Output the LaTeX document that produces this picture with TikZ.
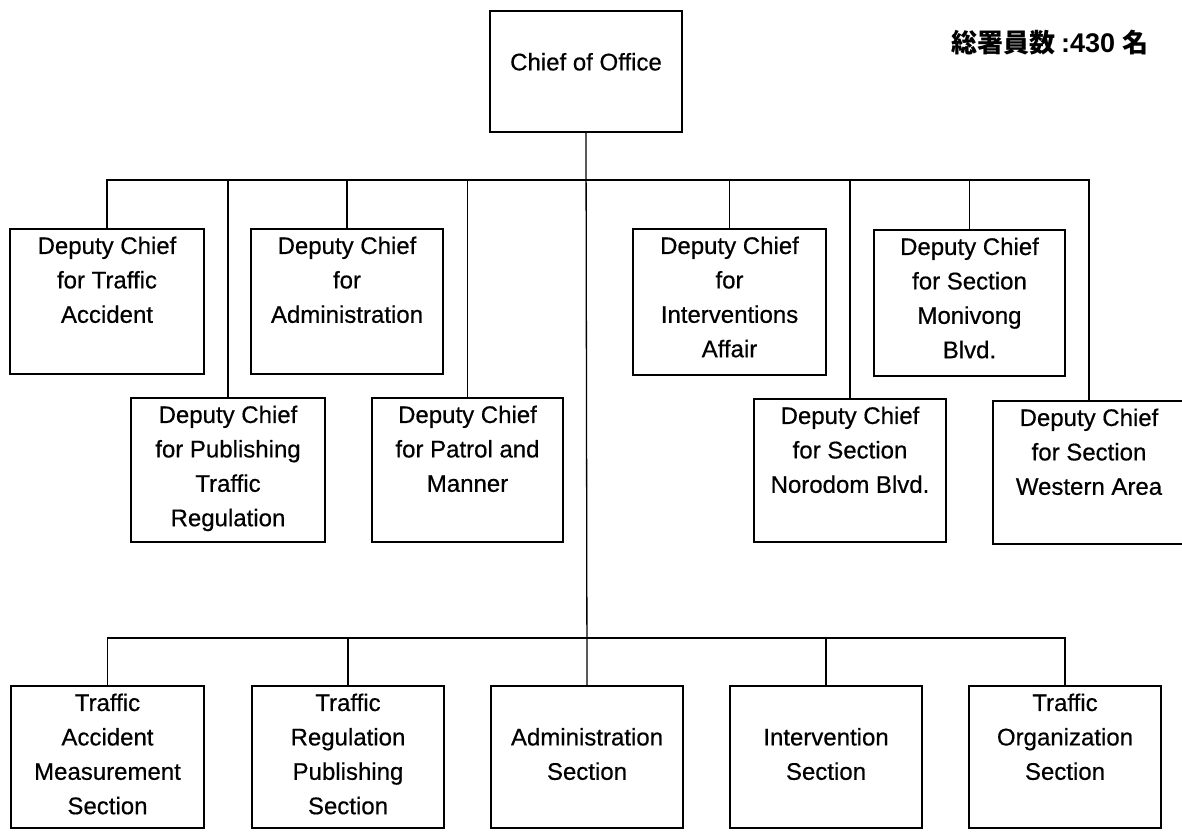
\documentclass[tikz,border=0pt]{standalone}
\usepackage{fontspec}
\setmainfont{Liberation Sans}
\newfontfamily\lblfont{Liberation Sans}[FakeBold=0.5]
\newfontfamily\cjk{Noto Sans CJK JP}
\begin{document}
\begin{tikzpicture}[x=1pt,y=-1pt,
  box/.style={draw, line width=1.6pt, inner sep=0pt, minimum width=#1},
  box/.default=193pt,
  lbl/.style={anchor=north, align=center, inner sep=0pt, yshift=-1.5pt,
              font=\lblfont\fontsize{24}{34.4}\selectfont},
  link/.style={line width=1.3pt}]
\useasboundingbox (0,0) rectangle (1182,831);

% org box: name, left, top, right, bottom, text
\newcommand\orgunit[6]{%
  \node[box=#4-#2, minimum height=#5-#3] (#1) at ({(#2+#4)/2},{(#3+#5)/2}) {};
  \node[lbl] (#1-t) at (#1.north) {\strut#6};
}

% head of office
\orgunit{chief}{490}{11}{682}{132}{\\Chief of Office}

% deputy chiefs, upper row
\orgunit{accid}{10}{229}{204}{374}{Deputy Chief\\for Traffic\\Accident}
\orgunit{admin}{251}{229}{443}{374}{Deputy Chief\\for\\Administration}
\orgunit{interv}{633}{229}{826}{375}{Deputy Chief\\for\\Interventions\\Affair}
\orgunit{moni}{874}{230}{1065}{376}{Deputy Chief\\for Section\\Monivong\\Blvd.}

% deputy chiefs, lower row
\orgunit{publ}{131}{398}{325}{542}{Deputy Chief\\for Publishing\\Traffic\\Regulation}
\orgunit{patrol}{372}{398}{563}{542}{Deputy Chief\\for Patrol and\\Manner}
\orgunit{noro}{754}{399}{946}{542}{Deputy Chief\\for Section\\Norodom Blvd.}
\orgunit{west}{993}{401}{1185}{544}{Deputy Chief\\for Section\\Western Area}

% sections
\orgunit{secA}{11}{686}{204}{828}{Traffic\\Accident\\Measurement\\Section}
\orgunit{secR}{252}{686}{444}{828}{Traffic\\Regulation\\Publishing\\Section}
\orgunit{secAd}{491}{686}{683}{828}{\\Administration\\Section}
\orgunit{secI}{730}{686}{922}{828}{\\Intervention\\Section}
\orgunit{secO}{969}{686}{1161}{828}{Traffic\\Organization\\Section}

% bus lines
\coordinate (bus) at (586,180);
\coordinate (bus2) at (586,638);

\draw[link] (chief.south) -- (secAd.north);
\foreach \n in {accid,admin,interv,moni,publ,patrol,noro,west}
  \draw[link] (\n.north) |- (bus);
\foreach \n in {secA,secR,secI,secO}
  \draw[link] (\n.north) |- (bus2);

% staff count
\node[anchor=west, inner sep=0pt, font=\bfseries\fontsize{27}{30}\selectfont]
  (staff) at (951,43)
  {{\cjk\bfseries\fontsize{26}{30}\selectfont 総署員数}\hspace{6pt}:430 {\cjk\bfseries\fontsize{26}{30}\selectfont 名}};
\end{tikzpicture}
\end{document}
